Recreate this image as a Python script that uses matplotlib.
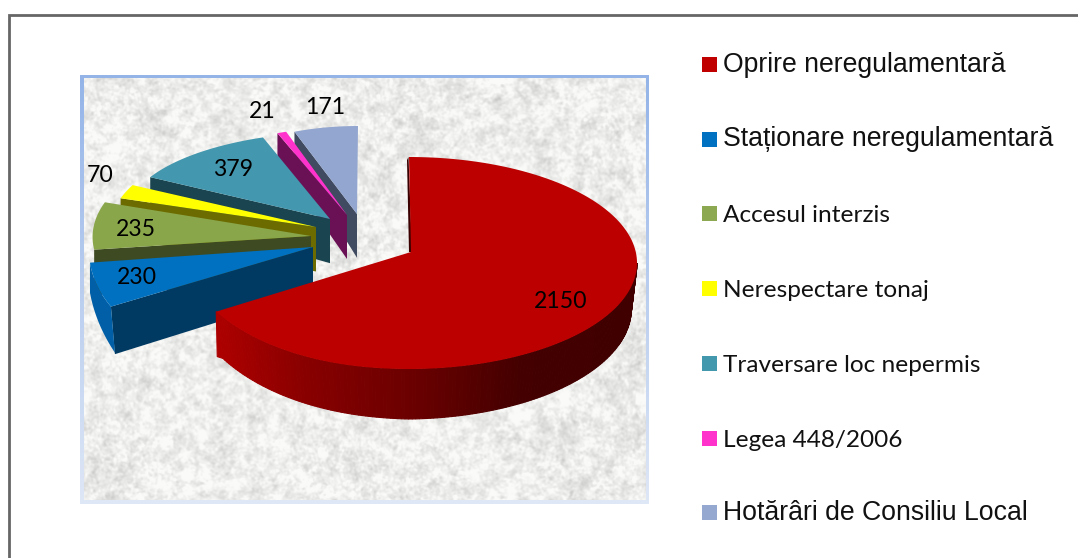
import numpy as np
import matplotlib
matplotlib.use("Agg")
import matplotlib.pyplot as plt
from matplotlib.patches import Polygon, Rectangle

# Values for each category
categories = ["Oprire neregulamentară", "Staționare neregulamentară", "Accesul interzis",
              "Nerespectare tonaj", "Traversare loc nepermis", "Legea 448/2006",
              "Hotărâri de Consiliu Local"]
values = [2150, 230, 235, 70, 379, 21, 171]

# Colours
top_colors = ["#BC0000", "#0070C0", "#8AA64A", "#FFFF00", "#4397AE", "#FF33CC", "#93A6CF"]
legend_colors = ["#C00000", "#0070C0", "#8CA850", "#FFFF00", "#4398AE", "#FF33CC", "#95A8D0"]
cut_colors = ["#3A0000", "#003A63", "#3E4A22", "#6B6B00", "#1A4450", "#6A1155", "#404A60"]

# Layout in pixels: the pie is tilted and exploded, every slice has its own place
apex = [(411, 252), (313, 247), (311, 236), (316, 227), (330, 219), (347, 215), (357, 214)]
rim_center = [(409, 263), (231, 250), (316, 237), (336, 233), (340, 214.5), (360, 232), (358, 232)]
rim_scale = [1.0, 0.623, 0.98, 1.0, 0.933, 1.0, 0.86]
rim_scale_y = [1.0, 1.0, 1.0, 1.0, 0.78, 1.0, 1.0]
rx, ry = 228, 106
label_xy = [(561, 302), (137, 278), (136, 230), (100, 175), (233, 170), (262, 112), (325, 108)]
legend_y = [57, 132, 206, 281, 356, 431, 505]
legend_font = ["Liberation Sans", "Liberation Sans", "Lato", "Lato", "Lato", "Lato", "Liberation Sans"]
legend_size = [19.2, 19.2, 17.6, 17.6, 17.6, 17.6, 19.2]
legend_dy = [-3, -3, 0, 0, 0, 0, -3]


def depth(y):
    # the thickness looks smaller towards the back of the pie
    return np.interp(y, [125, 215, 370], [24, 44, 50])


def rim(i, a):
    t = np.radians(a)
    cx, cy = rim_center[i]
    x = cx + rx * rim_scale[i] * np.sin(t)
    y = cy - ry * rim_scale_y[i] * np.cos(t)
    if i == 0 and a > 190:
        # perspective pulls the far left end of the red slice up a bit
        y -= 8 * ((a - 190) / 47.7) ** 2
    return x, y


def smooth_noise(rng, h, w, sigma):
    fy = np.fft.fftfreq(h)[:, None]
    fx = np.fft.rfftfreq(w)[None, :]
    spec = np.fft.rfft2(rng.standard_normal((h, w))) * np.exp(-2 * (np.pi * sigma) ** 2 * (fx ** 2 + fy ** 2))
    n = np.fft.irfft2(spec, s=(h, w))
    return n / n.std()


fig = plt.figure(figsize=(10.78, 5.58), dpi=100)
ax = fig.add_axes([0, 0, 1, 1])
ax.set_xlim(0, 1078)
ax.set_ylim(558, 0)
ax.axis("off")

# outer page border
ax.plot([8.5, 8.5, 1078], [558, 14.5, 14.5], color="#666666", lw=2, solid_joinstyle="miter")

# panel frame, light blue fading downwards
frame = np.linspace(0, 1, 100)[:, None, None] * (np.array([222, 231, 246]) - np.array([148, 180, 232])) + np.array([148, 180, 232])
ax.imshow(frame.astype(np.uint8), extent=(80, 649, 504, 75), aspect="auto", zorder=1)

# marble texture behind the pie
rng = np.random.default_rng(7)
marble = 238 + 6 * smooth_noise(rng, 420, 560, 1.0) + 6 * smooth_noise(rng, 420, 560, 3) + 3 * smooth_noise(rng, 420, 560, 8)
marble = np.clip(marble, 195, 250)
tex = np.dstack([marble, marble, marble - 2]).astype(np.uint8)
ax.imshow(tex, extent=(83.5, 645.5, 500.5, 79), aspect="auto", zorder=2)
ax.set_xlim(0, 1078)
ax.set_ylim(558, 0)

# slice angles, clockwise from twelve o'clock
total = sum(values)
edges = np.concatenate([[0], np.cumsum(values) / total * 360])

# back slices first, the big red one last
for i in range(len(values) - 1, -1, -1):
    a0, a1 = edges[i], edges[i + 1]
    arc = np.linspace(a0, a1, max(int(a1 - a0), 2) * 2)
    pts = np.array([rim(i, a) for a in arc])
    ax_, ay_ = apex[i]

    if i == 0:
        # curved wall of the red slice, light on the left and dark on the right
        wall = np.linspace(90, a1, 160)
        wx = [rim(0, a) for a in wall]
        dz = np.interp(wall, [90, 180, a1], [46, 50, 45])
        for k in range(len(wall) - 1):
            (x0, y0), (x1, y1) = wx[k], wx[k + 1]
            bx0 = 409 + (x0 - 409) * 0.975
            bx1 = 409 + (x1 - 409) * 0.975
            if k == len(wall) - 2:
                bx1 = x1 + 1
            r = np.interp((x0 + x1) / 2, [218, 300, 420, 520, 640], [172, 138, 104, 68, 64])
            c = (r / 255, 0, 0)
            ax.add_patch(Polygon([(x0, y0), (x1, y1), (bx1, y1 + dz[k + 1]), (bx0, y0 + dz[k])],
                                 facecolor=c, edgecolor=c, lw=0.8, zorder=3 + (7 - i) * 2))
        ax.add_patch(Polygon([(407, 160), (408.5, 157), (412, 252), (409, 252)],
                             facecolor=cut_colors[0], edgecolor="none", zorder=3 + (7 - i) * 2))
    else:
        # flat cut face along the front edge of the slice
        rx0, ry0 = pts[0]
        ax.add_patch(Polygon([(rx0, ry0), (ax_, ay_), (ax_, ay_ + depth(ay_)), (rx0 + (4 if i == 1 else 0), ry0 + depth(ry0))],
                             facecolor=cut_colors[i], edgecolor="none", zorder=3 + (7 - i) * 2))
    if i == 1:
        # outer wall of the blue slice
        lower = np.array([(x + 4 * (1 - k / (len(pts) - 1)), y + 46 - 16 * k / (len(pts) - 1)) for k, (x, y) in enumerate(pts)])
        ax.add_patch(Polygon(np.vstack([pts, lower[::-1]]), facecolor="#005FA6", edgecolor="none",
                             zorder=3 + (7 - i) * 2))
    ax.add_patch(Polygon(np.vstack([[apex[i]], pts]), facecolor=top_colors[i], edgecolor="none",
                         zorder=4 + (7 - i) * 2))

# value labels
for (x, y), v in zip(label_xy, values):
    ax.text(x, y, str(v), ha="center", va="center", fontsize=16.6, family="Lato", color="black", zorder=30)

# legend
for name, col, y, fam, size, dy in zip(categories, legend_colors, legend_y, legend_font, legend_size, legend_dy):
    ax.add_patch(Rectangle((702, y), 15, 15, facecolor=col, edgecolor="none", zorder=30))
    ax.text(723, y + 7.5 + dy, name, ha="left", va="center_baseline", fontsize=size, family=fam, color="#111111", zorder=30)

fig.savefig("out.png", dpi=100)
